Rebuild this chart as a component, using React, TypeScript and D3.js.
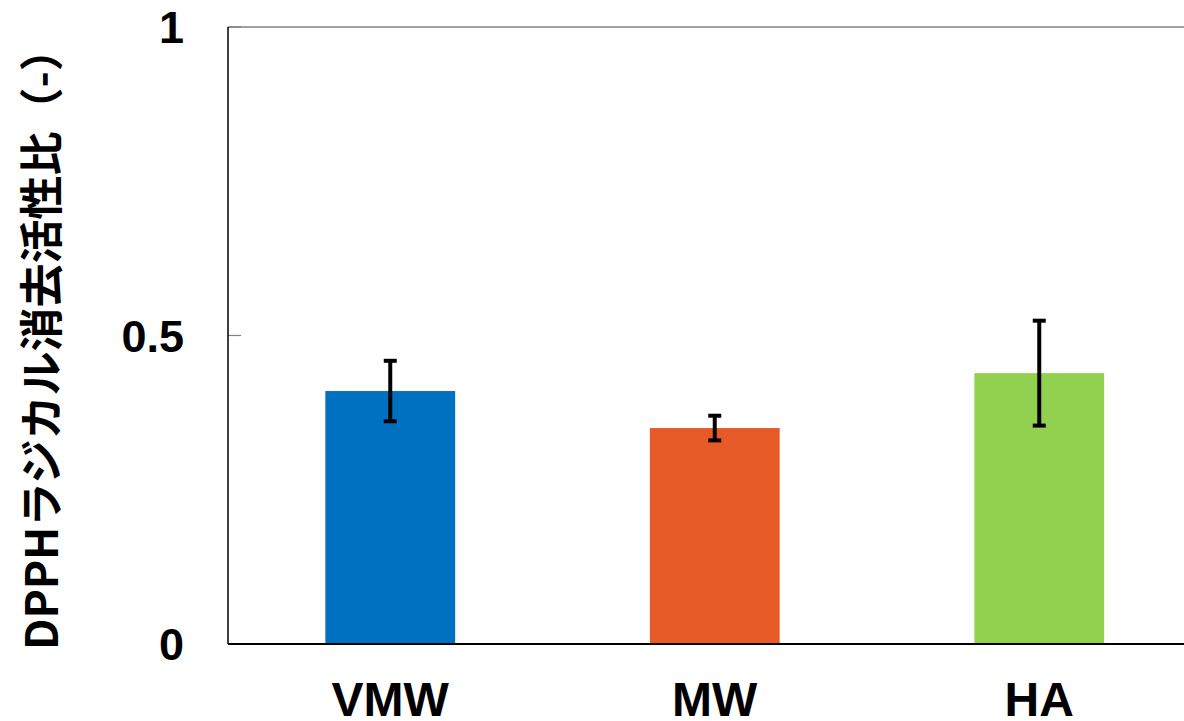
import React from "react";
import * as d3 from "d3";

const categories = ["VMW", "MW", "HA"];
const values = [0.41, 0.35, 0.439];
const errors = [0.049, 0.02, 0.085];
const colors = ["#0070C0", "#E65A28", "#92D050"];
const yTicks = [0, 0.5, 1];
const yTickLabels = ["0", "0.5", "1"];

const W = 1184;
const H = 721;
const left = 228;
const top = 27;
const bottom = 644;
const right = 1201.5;

export default function App() {
  const x = d3
    .scaleBand<string>()
    .domain(categories)
    .range([left, right])
    .paddingInner(0.6)
    .paddingOuter(0.3);
  const y = d3.scaleLinear().domain([0, 1]).range([bottom, top]);
  const cap = 6.5;
  const latin = "'Liberation Sans', Arial, sans-serif";

  return (
    <svg
      width={W}
      height={H}
      style={{ position: "absolute", left: 0, top: 0, background: "#fff" }}
    >
      {/* top frame line */}
      <line x1={left} x2={W} y1={y(1)} y2={y(1)} stroke="#808080" strokeWidth={1.5} />
      {/* inner ticks */}
      {yTicks.slice(1).map((t) => (
        <line key={t} x1={left} x2={left + 13} y1={y(t)} y2={y(t)} stroke="#808080" strokeWidth={1.2} />
      ))}
      {categories.map((c, i) => {
        const x0 = x(c)!;
        const cx = x0 + x.bandwidth() / 2;
        const v = values[i];
        const e = errors[i];
        return (
          <g key={c}>
            <rect x={x0} y={y(v)} width={x.bandwidth()} height={y(0) - y(v)} fill={colors[i]} />
            <line x1={cx} x2={cx} y1={y(v + e)} y2={y(v - e)} stroke="#000" strokeWidth={4} />
            <line x1={cx - cap} x2={cx + cap} y1={y(v + e)} y2={y(v + e)} stroke="#000" strokeWidth={4} />
            <line x1={cx - cap} x2={cx + cap} y1={y(v - e)} y2={y(v - e)} stroke="#000" strokeWidth={4} />
            <text
              x={cx}
              y={716}
              textAnchor="middle"
              fontFamily={latin}
              fontWeight="bold"
              fontSize={48}
            >
              {c}
            </text>
          </g>
        );
      })}
      {/* axes */}
      <line x1={left} x2={left} y1={top} y2={bottom} stroke="#000" strokeWidth={1.5} />
      <line x1={left} x2={W} y1={bottom} y2={bottom} stroke="#000" strokeWidth={2} />
      {yTicks.map((t, i) => (
        <text
          key={t}
          x={184}
          y={y(t) + 16}
          textAnchor="end"
          fontFamily={latin}
          fontWeight="bold"
          fontSize={45}
        >
          {yTickLabels[i]}
        </text>
      ))}
      <text
        transform={`translate(58, 650) rotate(-90)`}
        textAnchor="start"
        fontFamily="'Noto Sans CJK JP', 'Noto Sans', sans-serif"
        fontWeight="bold"
        fontSize={44}
      >
        DPPHラジカル消去活性比（-）
      </text>
    </svg>
  );
}
